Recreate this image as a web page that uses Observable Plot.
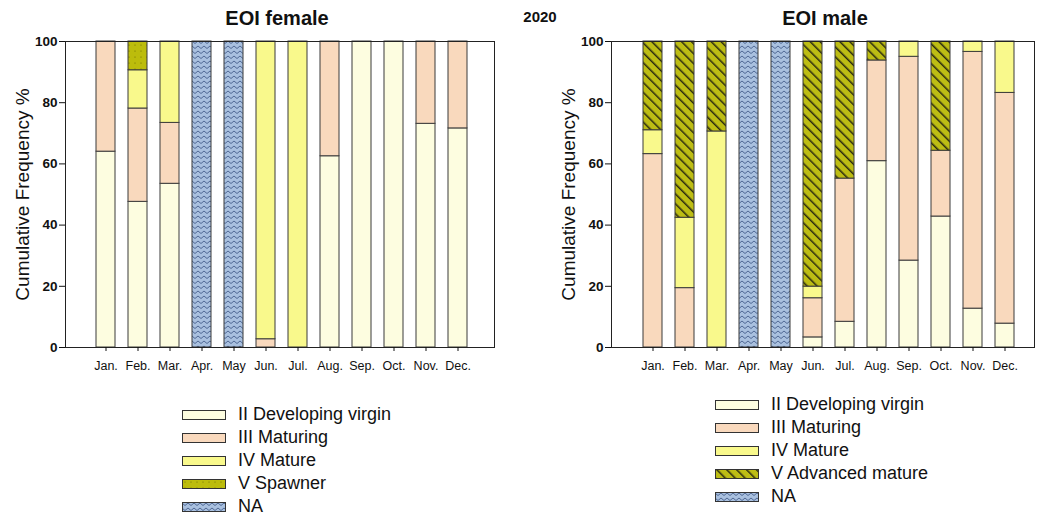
<!DOCTYPE html>
<html><head><meta charset="utf-8">
<script src="https://cdn.jsdelivr.net/npm/d3@7"></script>
<script src="https://cdn.jsdelivr.net/npm/@observablehq/plot@0.6"></script>
<style>
body{margin:0;background:#fff;font-family:Arial,"Liberation Sans",sans-serif;}
#root{position:relative;width:1041px;height:519px;overflow:hidden;background:#fff;}
.chart{position:absolute;top:0;}
.title{position:absolute;font-weight:bold;font-size:20px;transform:translate(-50%,-50%);white-space:nowrap;color:#111;}
.legend{position:absolute;font-size:18px;color:#111;}
.legend .row{height:23px;display:flex;align-items:center;white-space:nowrap;}
.legend svg{margin-right:12px;flex:none;}
</style></head><body>
<svg width="0" height="0" style="position:absolute">
<defs>
<pattern id="pNA" patternUnits="userSpaceOnUse" width="6" height="5">
 <rect width="6" height="5" fill="#A9C0DF"/>
 <path d="M0,1 L3,3.5 L6,1" fill="none" stroke="#4F6894" stroke-width="1"/>
</pattern>
<pattern id="pSpawn" patternUnits="userSpaceOnUse" width="6" height="6">
 <rect width="6" height="6" fill="#BCBC0C"/>
 <circle cx="3" cy="3" r="0.6" fill="#6b6b00"/>
</pattern>
<pattern id="pAdv" patternUnits="userSpaceOnUse" width="7" height="7" patternTransform="rotate(-45)">
 <rect width="7" height="7" fill="#BDBD14"/>
 <rect width="1.5" height="7" fill="#2a2a10"/>
</pattern>
</defs></svg>
<div id="root"></div>
<script>
const months = ["Jan.","Feb.","Mar.","Apr.","May","Jun.","Jul.","Aug.","Sep.","Oct.","Nov.","Dec."];
const femaleStages = ["II Developing virgin","III Maturing","IV Mature","V Spawner","NA"];
const maleStages = ["II Developing virgin","III Maturing","IV Mature","V Advanced mature","NA"];
const yTicks = [0,20,40,60,80,100];
const yLabel = "Cumulative Frequency %";
const year = "2020";
const femaleTitle = "EOI female";
const maleTitle = "EOI male";

// female, % per month
const femaleII  = [64.0, 47.6, 53.5, 0, 0, 0, 0, 62.5, 100, 100, 73.1, 71.6];
const femaleIII = [36.0, 30.5, 19.9, 0, 0, 2.7, 0, 37.5, 0, 0, 26.9, 28.4];
const femaleIV  = [0, 12.5, 26.6, 0, 0, 97.3, 100, 0, 0, 0, 0, 0];
const femaleV   = [0, 9.4, 0, 0, 0, 0, 0, 0, 0, 0, 0, 0];
const femaleNA  = [0, 0, 0, 100, 100, 0, 0, 0, 0, 0, 0, 0];
// male, % per month
const maleII  = [0, 0, 0, 0, 0, 3.3, 8.4, 60.9, 28.4, 42.8, 12.7, 7.8];
const maleIII = [63.2, 19.4, 0, 0, 0, 12.8, 46.8, 32.9, 66.6, 21.5, 83.9, 75.4];
const maleIV  = [7.8, 23.0, 70.6, 0, 0, 3.8, 0, 0, 5.0, 0, 3.4, 16.8];
const maleV   = [29.0, 57.6, 29.4, 0, 0, 80.1, 44.8, 6.2, 0, 35.7, 0, 0];
const maleNA  = [0, 0, 0, 100, 100, 0, 0, 0, 0, 0, 0, 0];

const femaleFills = ["#FDFDE0", "#F9D9BD", "#F9F98C", "url(#pSpawn)", "url(#pNA)"];
const maleFills   = ["#FDFDE0", "#F9D9BD", "#F9F98C", "url(#pAdv)", "url(#pNA)"];

const FONT = 'Arial, "Liberation Sans", sans-serif';

function chart(stages, series, fills, o) {
  const rows = [];
  months.forEach((m, i) => stages.forEach((s, j) => {
    const v = series[j][i];
    if (v > 0) rows.push({month: m, stage: s, value: v});
  }));
  return Plot.plot({
    width: o.width, height: 385,
    marginLeft: o.ml, marginRight: o.mr, marginTop: 41, marginBottom: 38,
    style: {fontFamily: FONT, background: "transparent", color: "#111", overflow: "visible"},
    x: {domain: months, paddingInner: 0.4, paddingOuter: o.po, align: o.align, label: null},
    y: {domain: [0, 100], label: null},
    color: {type: "ordinal", domain: stages, range: fills},
    marks: [
      Plot.barY(rows, {x: "month", y: "value", fill: "stage", order: stages, stroke: "#3b3b3b", strokeWidth: 1}),
      Plot.frame({stroke: "#222"}),
      Plot.axisY({ticks: yTicks, tickSize: 6, tickPadding: 2, fontSize: 13.5, fontWeight: "bold", label: null}),
      Plot.axisX({tickSize: 4, tickPadding: 10, fontSize: 12.5, label: null}),
      Plot.text([yLabel], {text: d => d, frameAnchor: "left", textAnchor: "middle", lineAnchor: "middle", dx: -43, rotate: -90, fontSize: 19})
    ]
  });
}

const root = document.getElementById("root");
const left = chart(femaleStages, [femaleII, femaleIII, femaleIV, femaleV, femaleNA], femaleFills,
  {width: 520, ml: 65, mr: 26, po: 0.765, align: 0.54});
left.classList.add("chart"); left.style.left = "0px";
root.appendChild(left);
const right = chart(maleStages, [maleII, maleIII, maleIV, maleV, maleNA], maleFills,
  {width: 521, ml: 91, mr: 7, po: 0.67, align: 0.61});
right.classList.add("chart"); right.style.left = "520px";
root.appendChild(right);

function addText(txt, x, y, size) {
  const d = document.createElement("div");
  d.className = "title"; d.textContent = txt;
  d.style.left = x + "px"; d.style.top = y + "px"; d.style.fontSize = size + "px";
  root.appendChild(d);
}
addText(femaleTitle, 277, 18, 20);
addText(maleTitle, 825, 18, 20);
addText(year, 540, 16, 15);

function legend(stages, fills, x, y) {
  const d = document.createElement("div");
  d.className = "legend"; d.style.left = x + "px"; d.style.top = y + "px";
  stages.forEach((s, i) => {
    const r = document.createElement("div"); r.className = "row";
    r.innerHTML = `<svg width="44" height="10"><rect x="0.5" y="0.5" width="43" height="9" fill="${fills[i]}" stroke="#333" stroke-width="1"/></svg><span></span>`;
    r.querySelector("span").textContent = s;
    d.appendChild(r);
  });
  root.appendChild(d);
}
legend(femaleStages, femaleFills, 182, 403);
legend(maleStages, maleFills, 715, 393);
</script>
</body></html>
